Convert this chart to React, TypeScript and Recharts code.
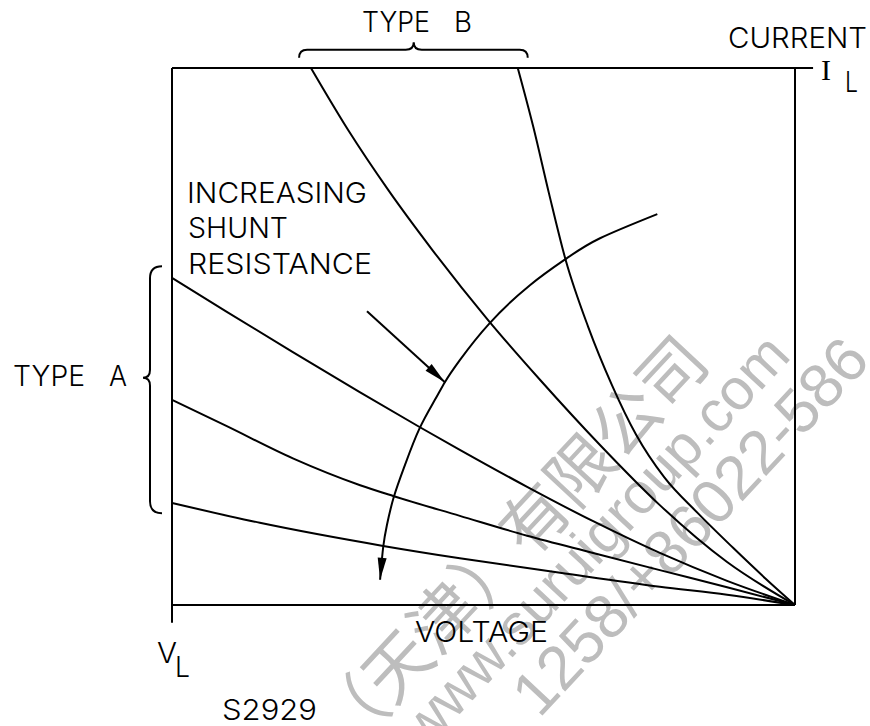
import React from 'react';
import { LineChart, Line, XAxis, YAxis, ReferenceLine, Customized } from 'recharts';

// ---------- layout (pixels) ----------
const W = 870;
const H = 726;
const FRAME_LEFT = 172;
const FRAME_RIGHT = 795;
const FRAME_TOP = 68;
const FRAME_BOTTOM = 605;
const SX = (FRAME_RIGHT - FRAME_LEFT) / 100; // px per voltage unit
const SY = (FRAME_BOTTOM - FRAME_TOP) / 100; // px per current unit
const X_DOMAIN: [number, number] = [-FRAME_LEFT / SX, (W - FRAME_LEFT) / SX];
const Y_DOMAIN: [number, number] = [-(H - FRAME_BOTTOM) / SY, FRAME_BOTTOM / SY];

// ---------- data (voltage / current in % of full scale) ----------
const typeA1Voltage = [0, 8.8, 19.4, 30.2, 39.8, 46.2, 57.0, 67.6, 78.3, 89.1, 100];
const typeA1Current = [60.9, 54.6, 47.1, 39.6, 33.1, 28.9, 22.0, 15.6, 9.7, 4.5, 0];

const typeA2Voltage = [0, 8.8, 19.4, 30.2, 35.5, 46.2, 57.0, 67.6, 78.3, 89.1, 100];
const typeA2Current = [38.2, 33.3, 27.3, 22.3, 20.3, 16.6, 12.9, 9.7, 6.5, 3.3, 0];

const typeA3Voltage = [0, 14.1, 33.9, 46.2, 62.3, 78.3, 89.1, 100];
const typeA3Current = [19.0, 15.3, 11.0, 8.7, 6.0, 3.4, 1.9, 0];

const typeB1Voltage = [22.3, 28.3, 34.7, 41.8, 50.7, 59.1, 68.7, 78.3, 89.1, 100];
const typeB1Current = [100, 88.4, 77.3, 66.1, 53.1, 41.9, 29.8, 18.6, 8.0, 0];

const typeB2Voltage = [55.5, 58.0, 60.5, 63.2, 66.8, 70.6, 74.5, 79.0, 84.4, 90.1, 95.2, 100];
const typeB2Current = [100, 89.0, 76.7, 64.2, 51.8, 41.0, 31.7, 23.8, 17.1, 10.6, 5.0, 0];

// "increasing shunt resistance" arc
const arcVoltage = [77.9, 68.7, 63.4, 57.5, 51.0, 46.2, 43.8, 42.2, 39.7, 37.4, 35.6, 34.5, 33.9, 33.4];
const arcCurrent = [72.8, 68.3, 64.6, 59.6, 52.5, 45.6, 41.5, 38.2, 32.8, 26.1, 20.1, 14.9, 10.8, 4.7];

// pointer arrow
const pointerVoltage = [31.3, 43.8];
const pointerCurrent = [54.7, 41.5];

const toPoints = (vs: number[], is: number[]) => vs.map((v, k) => ({ v, i: is[k] }));

const px = (v: number) => FRAME_LEFT + v * SX;
const py = (i: number) => FRAME_BOTTOM - i * SY;

function makeArrowDot(vs: number[], is: number[], len: number, half: number) {
  const n = vs.length;
  const a = Math.atan2(-(is[n - 1] - is[n - 2]) * SY, (vs[n - 1] - vs[n - 2]) * SX);
  return (props: any) => {
    const { cx, cy, index } = props;
    if (index !== n - 1 || cx == null || cy == null) return <g key={`d${index}`} />;
    const ca = Math.cos(a);
    const sa = Math.sin(a);
    const bx = cx - len * ca;
    const by = cy - len * sa;
    const pts = [
      [cx, cy],
      [bx - half * sa, by + half * ca],
      [bx + half * sa, by - half * ca],
    ];
    return <polygon key={`d${index}`} points={pts.map((p) => p.join(',')).join(' ')} fill="#000" />;
  };
}

const FONT = 'Inter, "DejaVu Sans", sans-serif';

const labelStyle = { fontFamily: FONT, fontSize: 29, fontWeight: 300, fill: '#000' } as const;

type Lbl = { t: string; x: number; y: number; w: number };
const labels: Lbl[] = [
  { t: 'TYPE', x: 362, y: 32, w: 68 },
  { t: 'B', x: 454, y: 32, w: 18 },
  { t: 'CURRENT', x: 728, y: 48, w: 139 },
  { t: 'L', x: 845, y: 92, w: 13 },
  { t: 'INCREASING', x: 187, y: 203, w: 180 },
  { t: 'SHUNT', x: 188, y: 238, w: 100 },
  { t: 'RESISTANCE', x: 188, y: 274, w: 184 },
  { t: 'TYPE', x: 13, y: 386, w: 72 },
  { t: 'A', x: 109, y: 386, w: 18 },
  { t: 'V', x: 157, y: 663, w: 20 },
  { t: 'L', x: 175, y: 677, w: 15 },
  { t: 'VOLTAGE', x: 415, y: 642, w: 133 },
  { t: 'S2929', x: 222, y: 720, w: 95 },
];

const watermarks = [
  { t: '（天津）有限公司', x: 508, y: 540, size: 67, rot: -47, family: '"Noto Sans CJK SC", sans-serif' },
  { t: 'www.suruigroup.com', x: 594, y: 540, size: 58, rot: -47, family: '"Liberation Sans", sans-serif' },
  { t: '1258/+86022-586', x: 690, y: 526, size: 62, rot: -47, family: '"Liberation Sans", sans-serif' },
];

const Watermark = () => (
  <g>
    {watermarks.map((w, k) => (
      <text
        key={k}
        x={w.x}
        y={w.y}
        transform={`rotate(${w.rot} ${w.x} ${w.y})`}
        textAnchor="middle"
        dominantBaseline="central"
        style={{ fontFamily: w.family, fontSize: w.size, fill: '#bdbdbd' }}
      >
        {w.t}
      </text>
    ))}
  </g>
);

const Annotations = () => {
  // top brace (TYPE B)
  const tl = px(20.4), tr = px(57.1), tm = px(38.8);
  const tb = py(101.9), th = py(103.4), tt = py(104.8);
  const topBrace = `M${tl},${tb} Q${tl},${th} ${tl + 8},${th} L${tm - 8},${th} Q${tm},${th} ${tm},${tt} Q${tm},${th} ${tm + 8},${th} L${tr - 8},${th} Q${tr},${th} ${tr},${tb}`;
  // left brace (TYPE A)
  const le = FRAME_LEFT - 10, lv = FRAME_LEFT - 22, lt = FRAME_LEFT - 29;
  const ltop = py(63.1), lbot = py(17.1), lmid = py(42.3);
  const leftBrace = `M${le},${ltop} Q${lv},${ltop} ${lv},${ltop + 12} L${lv},${lmid - 8} Q${lv},${lmid} ${lt},${lmid} Q${lv},${lmid} ${lv},${lmid + 8} L${lv},${lbot - 12} Q${lv},${lbot} ${le},${lbot}`;
  return (
    <g>
      <path d={topBrace} fill="none" stroke="#000" strokeWidth={2} />
      <path d={leftBrace} fill="none" stroke="#000" strokeWidth={2} />
      {labels.map((l, k) => (
        <text key={k} x={l.x} y={l.y} textLength={l.w} lengthAdjust="spacingAndGlyphs" style={labelStyle}>
          {l.t}
        </text>
      ))}
      <text
        x={826}
        y={80}
        textAnchor="middle"
        style={{ fontFamily: '"Liberation Serif", serif', fontSize: 30, fill: '#000' }}
      >
        I
      </text>
    </g>
  );
};

const seriesStyle = { stroke: '#000', strokeWidth: 2, fill: 'none' };

export default function App() {
  return (
    <div style={{ position: 'absolute', left: 0, top: 0, width: W, height: H, background: '#fff' }}>
      <LineChart width={W} height={H} margin={{ top: 0, right: 0, bottom: 0, left: 0 }}>
        <XAxis type="number" dataKey="v" domain={X_DOMAIN} allowDataOverflow hide />
        <YAxis type="number" dataKey="i" domain={Y_DOMAIN} allowDataOverflow hide width={0} />
        <Customized component={Watermark} />
        <ReferenceLine segment={[{ x: 0, y: 100 }, { x: 102.9, y: 100 }]} stroke="#000" strokeWidth={2} />
        <ReferenceLine segment={[{ x: 0, y: 100 }, { x: 0, y: -3.3 }]} stroke="#000" strokeWidth={2} />
        <ReferenceLine segment={[{ x: 100, y: 100 }, { x: 100, y: 0 }]} stroke="#000" strokeWidth={2} />
        <ReferenceLine segment={[{ x: 0, y: 0 }, { x: 100, y: 0 }]} stroke="#000" strokeWidth={2} />
        <Line data={toPoints(typeA1Voltage, typeA1Current)} dataKey="i" type="monotone" dot={false} activeDot={false} isAnimationActive={false} {...seriesStyle} />
        <Line data={toPoints(typeA2Voltage, typeA2Current)} dataKey="i" type="monotone" dot={false} activeDot={false} isAnimationActive={false} {...seriesStyle} />
        <Line data={toPoints(typeA3Voltage, typeA3Current)} dataKey="i" type="monotone" dot={false} activeDot={false} isAnimationActive={false} {...seriesStyle} />
        <Line data={toPoints(typeB1Voltage, typeB1Current)} dataKey="i" type="monotone" dot={false} activeDot={false} isAnimationActive={false} {...seriesStyle} />
        <Line data={toPoints(typeB2Voltage, typeB2Current)} dataKey="i" type="monotone" dot={false} activeDot={false} isAnimationActive={false} {...seriesStyle} />
        <Line
          data={toPoints(arcVoltage, arcCurrent)}
          dataKey="i"
          type="natural"
          dot={makeArrowDot(arcVoltage, arcCurrent, 22, 4.5)}
          activeDot={false}
          isAnimationActive={false}
          {...seriesStyle}
        />
        <Line
          data={toPoints(pointerVoltage, pointerCurrent)}
          dataKey="i"
          type="linear"
          dot={makeArrowDot(pointerVoltage, pointerCurrent, 22, 4.5)}
          activeDot={false}
          isAnimationActive={false}
          {...seriesStyle}
        />
        <Customized component={Annotations} />
      </LineChart>
    </div>
  );
}
